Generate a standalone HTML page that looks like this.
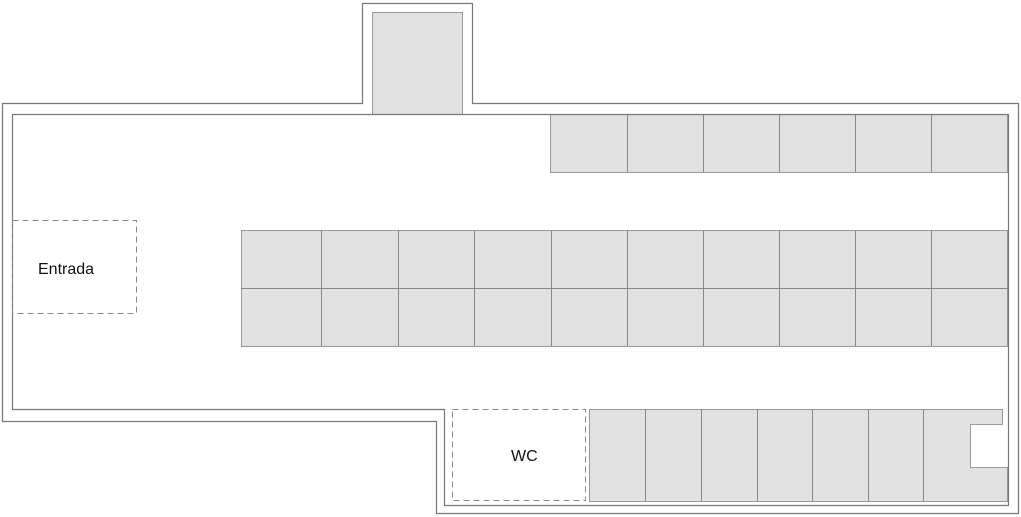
<!DOCTYPE html>
<html><head><meta charset="utf-8"><style>
html,body{margin:0;padding:0;background:#fff;width:1021px;height:517px;overflow:hidden}
text{font-family:"Liberation Sans",sans-serif;font-size:16px;fill:#111}
</style></head><body>
<svg width="1021" height="517" viewBox="0 0 1021 517" xmlns="http://www.w3.org/2000/svg">
<g fill="#e1e1e1" stroke="#999" stroke-width="1">
<rect x="372.5" y="12.5" width="90" height="102"/>
<rect x="550.5" y="114.5" width="457" height="58"/>
<rect x="241.5" y="230.5" width="766" height="116"/>
<path d="M589.5 409.5 H1002.5 V424.5 H970.5 V467.5 H1007.5 V501.5 H589.5 Z"/>
</g>
<g stroke="#888" stroke-width="1" fill="none">
<path d="M627.5 114V172 M703.5 114V172 M779.5 114V172 M855.5 114V172 M931.5 114V172"/>
<path d="M241 288.5H1008"/>
<path d="M321.5 230V346 M398.5 230V346 M474.5 230V346 M551.5 230V346 M627.5 230V346 M703.5 230V346 M779.5 230V346 M855.5 230V346 M931.5 230V346"/>
<path d="M645.5 409V501 M701.5 409V501 M757.5 409V501 M812.5 409V501 M868.5 409V501 M923.5 409V501"/>
</g>
<g stroke="#777" stroke-width="1.2" fill="none">
<path d="M2.5 103.5 H362.5 V3.5 H472.5 V103.5 H1018.5 V513.5 H436.5 V421.5 H2.5 Z"/>
<path d="M12.5 114.5 H1008.5 V505.5 H444.5 V409.5 H12.5 Z"/>
</g>
<g stroke="#888" stroke-width="1" stroke-dasharray="6,4" fill="none">
<rect x="12.5" y="220.5" width="124" height="93"/>
<rect x="452.5" y="409.5" width="133" height="91"/>
</g>
<text x="38" y="274">Entrada</text>
<text x="511" y="461">WC</text>
</svg>
</body></html>
